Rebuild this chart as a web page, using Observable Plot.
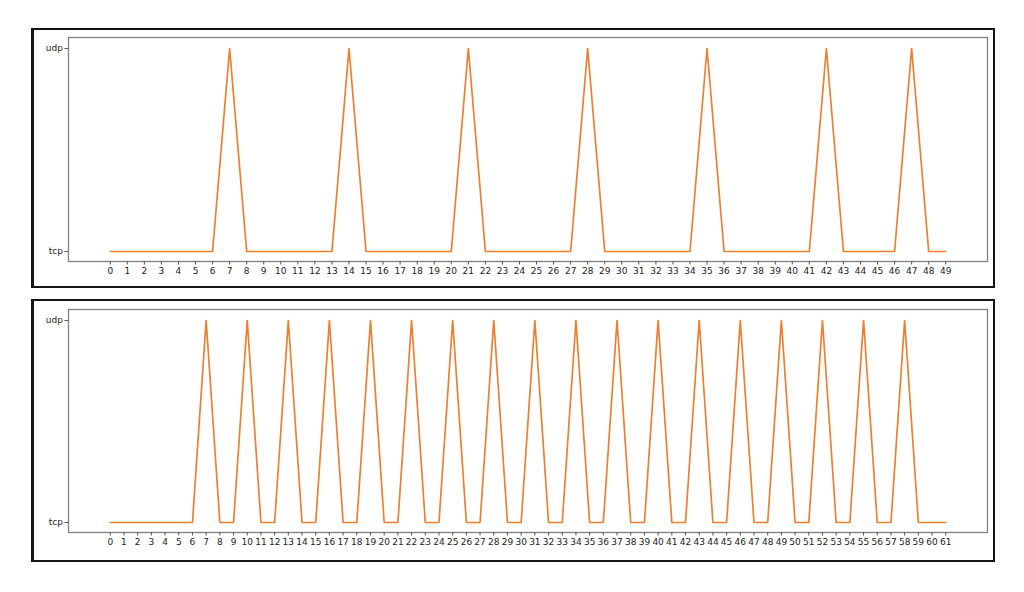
<!DOCTYPE html>
<html>
<head>
<meta charset="utf-8">
<script src="https://cdn.jsdelivr.net/npm/d3@7"></script>
<script src="https://cdn.jsdelivr.net/npm/@observablehq/plot@0.6"></script>
<style>
  html, body { margin: 0; padding: 0; background: #fff; width: 1024px; height: 592px; overflow: hidden; }
  .panel { position: absolute; left: 31px; box-sizing: content-box; border: 2px solid #151515; border-left-width: 3px; background: #fff; }
  .panel svg { display: block; }
</style>
</head>
<body>
<div id="p1" class="panel" style="top:28px;width:959px;height:256px;"></div>
<div id="p2" class="panel" style="top:299px;width:959px;height:259px;"></div>
<script>
// Categories (protocol states)
const protocols = ["udp", "tcp"];

// Top panel: packet index 0..49 and protocol at each index
const topTicks = [0,1,2,3,4,5,6,7,8,9,10,11,12,13,14,15,16,17,18,19,20,21,22,23,24,25,26,27,28,29,30,31,32,33,34,35,36,37,38,39,40,41,42,43,44,45,46,47,48,49];
const topStates = [
  "tcp","tcp","tcp","tcp","tcp","tcp","tcp","udp",
  "tcp","tcp","tcp","tcp","tcp","tcp","udp",
  "tcp","tcp","tcp","tcp","tcp","tcp","udp",
  "tcp","tcp","tcp","tcp","tcp","tcp","udp",
  "tcp","tcp","tcp","tcp","tcp","tcp","udp",
  "tcp","tcp","tcp","tcp","tcp","tcp","udp",
  "tcp","tcp","tcp","tcp","udp",
  "tcp","tcp"
];

// Bottom panel: packet index 0..61 and protocol at each index
const bottomTicks = [0,1,2,3,4,5,6,7,8,9,10,11,12,13,14,15,16,17,18,19,20,21,22,23,24,25,26,27,28,29,30,31,32,33,34,35,36,37,38,39,40,41,42,43,44,45,46,47,48,49,50,51,52,53,54,55,56,57,58,59,60,61];
const bottomStates = [
  "tcp","tcp","tcp","tcp","tcp","tcp","tcp","udp",
  "tcp","tcp","udp",
  "tcp","tcp","udp",
  "tcp","tcp","udp",
  "tcp","tcp","udp",
  "tcp","tcp","udp",
  "tcp","tcp","udp",
  "tcp","tcp","udp",
  "tcp","tcp","udp",
  "tcp","tcp","udp",
  "tcp","tcp","udp",
  "tcp","tcp","udp",
  "tcp","tcp","udp",
  "tcp","tcp","udp",
  "tcp","tcp","udp",
  "tcp","tcp","udp",
  "tcp","tcp","udp",
  "tcp","tcp","udp",
  "tcp","tcp","tcp"
];

const lineColor = "#ec8030";

function makeChart(ticks, states, h, mTop, mBottom) {
  const data = ticks.map((t, i) => ({x: t, y: states[i]}));
  const n = ticks[ticks.length - 1] - ticks[0];
  const pad = n * 0.05;
  return Plot.plot({
    width: 959,
    height: h,
    marginLeft: 34,
    marginRight: 6,
    marginTop: mTop,
    marginBottom: mBottom,
    style: {fontFamily: "DejaVu Sans", fontSize: "9px", color: "#222", background: "#fff"},
    x: {domain: [ticks[0] - pad, ticks[ticks.length - 1] + pad], label: null, axis: null},
    y: {type: "point", domain: protocols, padding: 0.05, label: null, axis: null},
    marks: [
      Plot.frame({stroke: "#808080", strokeWidth: 1.3}),
      Plot.axisX({ticks: ticks, tickFormat: d => String(d), tickSize: 3.5, tickPadding: 3, label: null, stroke: "#555", fill: "#222"}),
      Plot.axisY({ticks: protocols, tickSize: 3.5, tickPadding: 2, label: null, stroke: "#555", fill: "#222"}),
      Plot.line(data, {x: "x", y: "y", stroke: lineColor, strokeWidth: 1.7})
    ]
  });
}

document.getElementById("p1").append(makeChart(topTicks, topStates, 256, 7, 25));
document.getElementById("p2").append(makeChart(bottomTicks, bottomStates, 259, 8, 28));
</script>
</body>
</html>
